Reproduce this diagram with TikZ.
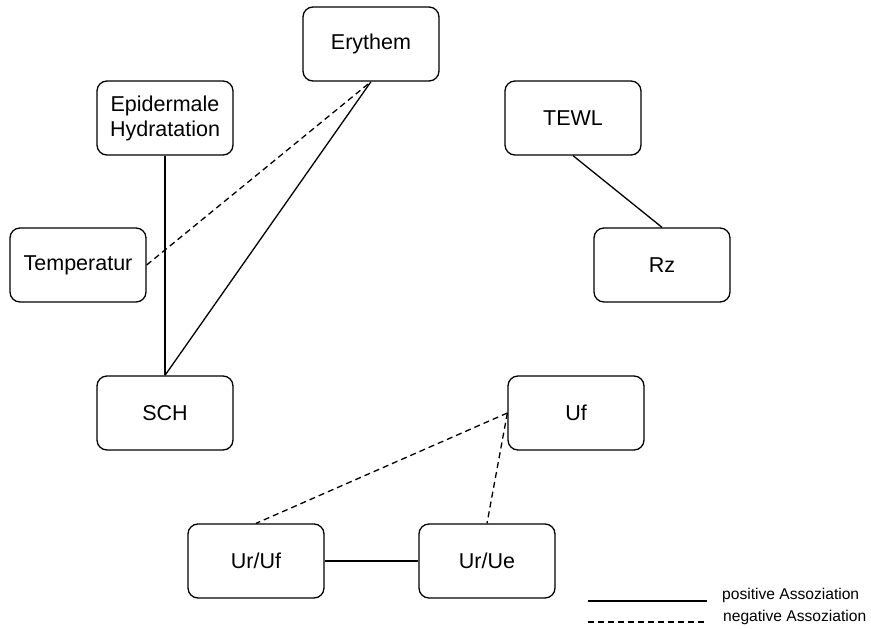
\documentclass[tikz,border=0pt]{standalone}
\usepackage{fontspec}
\setmainfont{Liberation Sans}
\begin{document}
\begin{tikzpicture}[x=1pt,y=-1pt,
  box/.style={draw, line width=1.3pt, rounded corners=10pt, minimum width=136pt, minimum height=74pt, inner sep=0pt, align=center, font=\fontsize{21.5}{25}\selectfont},
  posline/.style={line width=1.3pt},
  negline/.style={line width=1.3pt, dash pattern=on 6pt off 4pt},
  legtext/.style={anchor=west, inner sep=0pt, font=\fontsize{15.6}{18}\selectfont}]
\useasboundingbox (0,0) rectangle (871,629);
\node[box] (ery) at (371,44) {Erythem};
\node[box] (epi) at (165,118) {Epidermale\\Hydratation};
\node[box] (tem) at (78,265) {Temperatur};
\node[box] (tewl) at (573,118) {TEWL};
\node[box] (rz) at (662,265) {Rz};
\node[box] (sch) at (165,413) {SCH};
\node[box] (uf) at (576,413) {Uf};
\node[box] (urf) at (256,561) {Ur/Uf};
\node[box] (ure) at (487,561) {Ur/Ue};
\draw[posline] (epi.south) -- (sch.north);
\draw[posline] (ery.south) -- (sch.north);
\draw[negline] (tem.east) -- (ery.south);
\draw[posline] (tewl.south) -- (rz.north);
\draw[negline] (uf.west) -- (urf.north);
\draw[negline] (uf.west) -- (ure.north);
\draw[posline] (urf.east) -- (ure.west);
\coordinate (l1a) at (588,601);
\coordinate (l1b) at (707,601);
\coordinate (l2a) at (588,622);
\coordinate (l2b) at (707,622);
\draw[posline] (l1a) -- (l1b);
\draw[negline] (l2a) -- (l2b);
\node[legtext] (lp) at (722,595) {positive Assoziation};
\node[legtext] (ln) at (723,617) {negative Assoziation};
\end{tikzpicture}
\end{document}
